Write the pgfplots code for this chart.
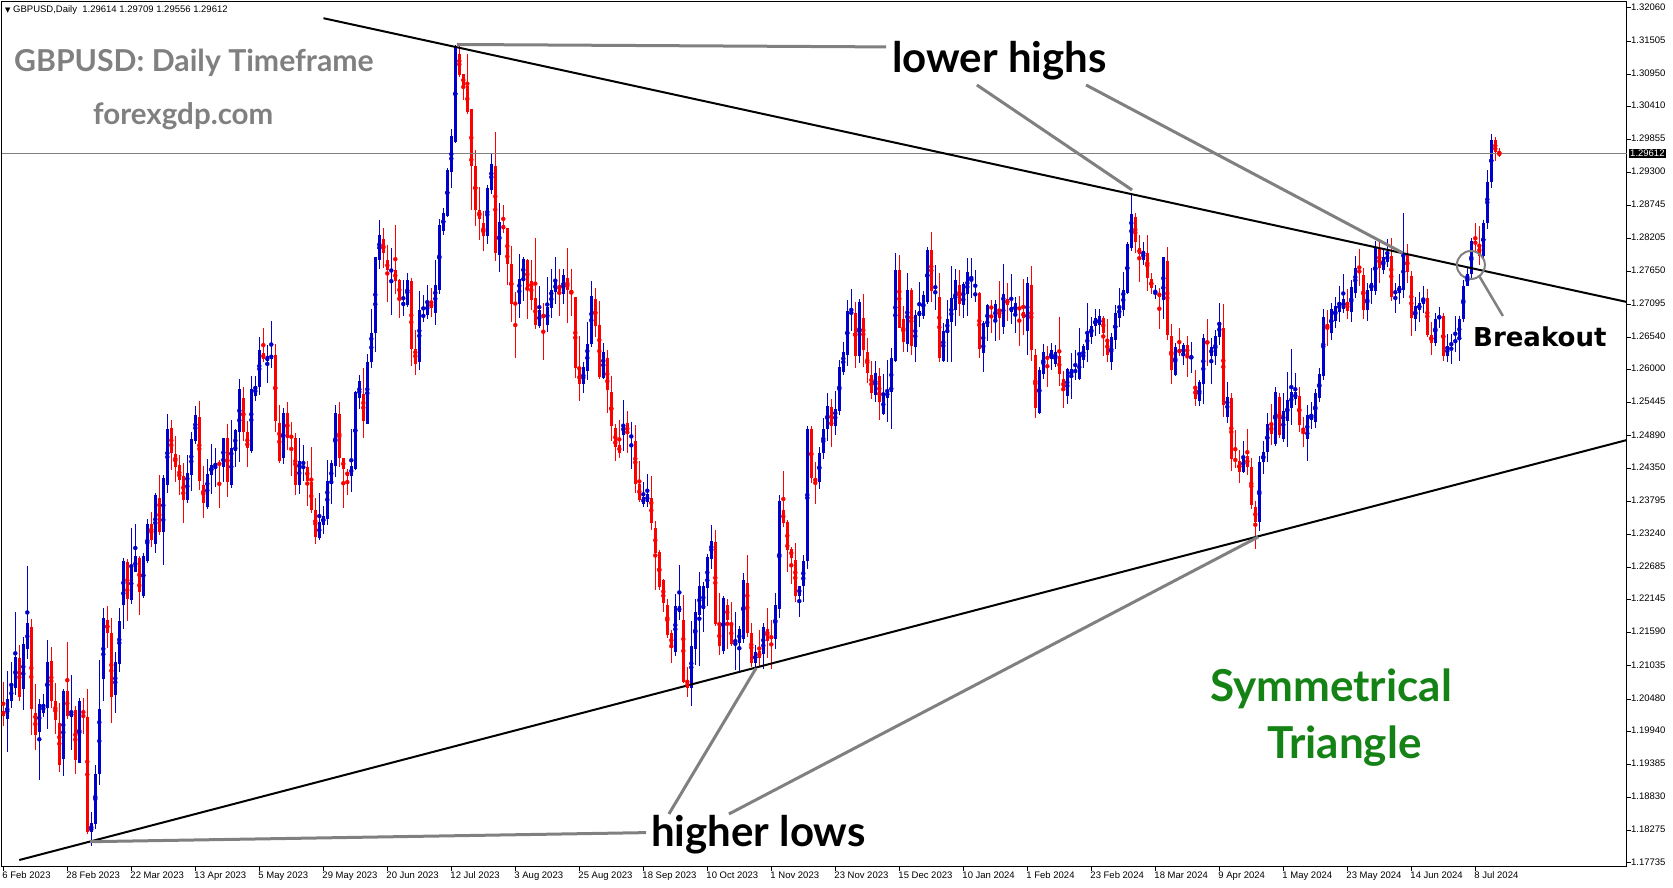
\documentclass[border=0pt]{standalone}
\usepackage{fontspec}
\setmainfont{Liberation Sans}
\newfontfamily\lato{Lato}
\newfontfamily\dejavu{DejaVu Sans}
\usepackage{pgfplots}
\usepackage{pgfplotstable}
\pgfplotsset{compat=1.18}

\definecolor{bull}{RGB}{0,0,205}
\definecolor{bear}{RGB}{255,0,0}
\definecolor{annot}{RGB}{128,128,128}
\definecolor{tri}{RGB}{20,130,20}

% GBPUSD daily candles, bar 0 = 6 Feb 2023 (weekdays only)
\pgfplotstableread{
o h l c
1.2028 1.2077 1.2003 1.2020
1.2014 1.2095 1.1960 1.2048
1.2044 1.2110 1.2033 1.2071
1.2067 1.2194 1.2055 1.2118
1.2117 1.2139 1.2045 1.2052
1.2064 1.2152 1.2029 1.2140
1.2131 1.2271 1.2115 1.2175
1.2168 1.2182 1.1988 1.2032
1.2025 1.2073 1.1963 1.1987
1.1992 1.2048 1.1913 1.2040
1.2024 1.2056 1.2017 1.2040
1.2033 1.2147 1.1997 1.2110
1.2112 1.2135 1.2033 1.2044
1.2044 1.2075 1.1990 1.2013
1.2008 1.2042 1.1926 1.1938
1.1948 1.2065 1.1919 1.2061
1.2061 1.2144 1.2015 1.2020
1.2018 1.2089 1.1963 1.2026
1.2030 1.2037 1.1923 1.1946
1.1940 1.2049 1.1940 1.2044
1.2028 1.2049 1.1990 1.2024
1.2018 1.2065 1.1821 1.1825
1.1825 1.1858 1.1801 1.1841
1.1838 1.1938 1.1830 1.1923
1.1923 1.2114 1.1904 1.2032
1.2081 1.2201 1.2045 1.2183
1.2181 1.2204 1.2134 1.2158
1.2158 1.2183 1.2008 1.2052
1.2055 1.2127 1.2025 1.2110
1.2106 1.2201 1.2094 1.2178
1.2206 1.2284 1.2166 1.2279
1.2278 1.2283 1.2178 1.2216
1.2214 1.2334 1.2207 1.2269
1.2261 1.2342 1.2260 1.2288
1.2284 1.2288 1.2189 1.2228
1.2221 1.2293 1.2218 1.2288
1.2279 1.2350 1.2276 1.2341
1.2341 1.2361 1.2302 1.2315
1.2308 1.2393 1.2293 1.2390
1.2385 1.2423 1.2323 1.2328
1.2327 1.2423 1.2273 1.2418
1.2407 1.2526 1.2394 1.2500
1.2502 1.2515 1.2432 1.2461
1.2459 1.2489 1.2412 1.2437
1.2440 1.2457 1.2389 1.2415
1.2422 1.2443 1.2343 1.2382
1.2382 1.2457 1.2377 1.2427
1.2424 1.2495 1.2397 1.2484
1.2480 1.2539 1.2476 1.2524
1.2520 1.2547 1.2399 1.2414
1.2407 1.2438 1.2352 1.2377
1.2370 1.2450 1.2367 1.2425
1.2424 1.2475 1.2391 1.2440
1.2437 1.2469 1.2404 1.2443
1.2443 1.2449 1.2368 1.2441
1.2436 1.2486 1.2411 1.2486
1.2485 1.2508 1.2386 1.2411
1.2406 1.2516 1.2402 1.2468
1.2464 1.2500 1.2436 1.2498
1.2495 1.2585 1.2445 1.2567
1.2553 1.2570 1.2481 1.2496
1.2495 1.2513 1.2436 1.2468
1.2464 1.2590 1.2460 1.2567
1.2555 1.2590 1.2548 1.2573
1.2570 1.2654 1.2558 1.2632
1.2627 1.2669 1.2613 1.2618
1.2614 1.2641 1.2578 1.2622
1.2618 1.2681 1.2603 1.2625
1.2625 1.2642 1.2496 1.2513
1.2511 1.2541 1.2444 1.2447
1.2452 1.2535 1.2442 1.2528
1.2528 1.2546 1.2465 1.2485
1.2490 1.2512 1.2422 1.2485
1.2486 1.2493 1.2390 1.2407
1.2407 1.2485 1.2392 1.2446
1.2436 1.2473 1.2414 1.2437
1.2437 1.2446 1.2372 1.2414
1.2412 1.2471 1.2360 1.2364
1.2364 1.2384 1.2308 1.2320
1.2318 1.2394 1.2315 1.2344
1.2340 1.2371 1.2325 1.2355
1.2350 1.2448 1.2340 1.2414
1.2409 1.2448 1.2375 1.2443
1.2439 1.2541 1.2420 1.2527
1.2526 1.2546 1.2437 1.2451
1.2451 1.2451 1.2368 1.2433
1.2429 1.2433 1.2390 1.2422
1.2422 1.2501 1.2395 1.2438
1.2434 1.2564 1.2431 1.2562
1.2553 1.2591 1.2534 1.2581
1.2559 1.2602 1.2486 1.2513
1.2509 1.2626 1.2508 1.2612
1.2612 1.2701 1.2602 1.2662
1.2662 1.2789 1.2630 1.2789
1.2783 1.2850 1.2769 1.2825
1.2818 1.2838 1.2771 1.2795
1.2783 1.2808 1.2714 1.2766
1.2764 1.2804 1.2692 1.2768
1.2766 1.2843 1.2727 1.2749
1.2750 1.2751 1.2686 1.2717
1.2707 1.2750 1.2689 1.2713
1.2709 1.2761 1.2704 1.2750
1.2748 1.2753 1.2606 1.2634
1.2635 1.2667 1.2591 1.2610
1.2613 1.2731 1.2599 1.2700
1.2689 1.2725 1.2680 1.2691
1.2691 1.2742 1.2684 1.2715
1.2712 1.2737 1.2688 1.2703
1.2695 1.2783 1.2674 1.2742
1.2733 1.2852 1.2727 1.2842
1.2832 1.2871 1.2825 1.2863
1.2857 1.2938 1.2855 1.2935
1.2931 1.3003 1.2904 1.2991
1.2982 1.3144 1.2980 1.3142
1.3129 1.3144 1.3090 1.3094
1.3095 1.3095 1.3052 1.3075
1.3075 1.3129 1.3029 1.3032
1.3036 1.3036 1.2867 1.2941
1.2941 1.2968 1.2841 1.2867
1.2867 1.2906 1.2817 1.2852
1.2846 1.2865 1.2799 1.2824
1.2824 1.2909 1.2810 1.2904
1.2901 1.2963 1.2894 1.2944
1.2941 1.2998 1.2782 1.2795
1.2792 1.2879 1.2764 1.2848
1.2842 1.2876 1.2829 1.2835
1.2837 1.2837 1.2742 1.2777
1.2777 1.2807 1.2680 1.2710
1.2712 1.2730 1.2619 1.2709
1.2710 1.2794 1.2687 1.2752
1.2749 1.2788 1.2715 1.2785
1.2784 1.2786 1.2685 1.2735
1.2749 1.2784 1.2699 1.2717
1.2720 1.2820 1.2668 1.2675
1.2673 1.2740 1.2669 1.2700
1.2693 1.2711 1.2616 1.2687
1.2675 1.2755 1.2663 1.2705
1.2703 1.2768 1.2687 1.2733
1.2730 1.2788 1.2710 1.2748
1.2742 1.2768 1.2689 1.2732
1.2727 1.2768 1.2710 1.2759
1.2754 1.2803 1.2678 1.2734
1.2734 1.2768 1.2690 1.2726
1.2721 1.2721 1.2586 1.2602
1.2599 1.2656 1.2548 1.2575
1.2575 1.2613 1.2560 1.2605
1.2597 1.2679 1.2583 1.2642
1.2642 1.2748 1.2638 1.2723
1.2718 1.2736 1.2654 1.2673
1.2675 1.2715 1.2584 1.2587
1.2586 1.2644 1.2585 1.2629
1.2619 1.2633 1.2528 1.2566
1.2562 1.2589 1.2481 1.2506
1.2502 1.2509 1.2446 1.2471
1.2474 1.2515 1.2451 1.2460
1.2491 1.2549 1.2463 1.2509
1.2510 1.2530 1.2460 1.2492
1.2486 1.2512 1.2434 1.2490
1.2480 1.2507 1.2394 1.2409
1.2409 1.2447 1.2378 1.2382
1.2375 1.2412 1.2370 1.2386
1.2378 1.2425 1.2369 1.2391
1.2385 1.2422 1.2331 1.2343
1.2335 1.2346 1.2231 1.2293
1.2295 1.2297 1.2231 1.2235
1.2247 1.2249 1.2193 1.2209
1.2206 1.2216 1.2151 1.2155
1.2159 1.2164 1.2109 1.2134
1.2126 1.2224 1.2120 1.2204
1.2194 1.2273 1.2180 1.2203
1.2180 1.2222 1.2075 1.2077
1.2077 1.2102 1.2052 1.2066
1.2066 1.2178 1.2037 1.2136
1.2132 1.2216 1.2105 1.2193
1.2189 1.2261 1.2104 1.2238
1.2198 1.2244 1.2161 1.2238
1.2234 1.2291 1.2203 1.2286
1.2283 1.2339 1.2266 1.2313
1.2311 1.2332 1.2170 1.2174
1.2170 1.2226 1.2121 1.2137
1.2129 1.2220 1.2124 1.2218
1.2206 1.2216 1.2132 1.2181
1.2176 1.2211 1.2136 1.2140
1.2138 1.2193 1.2097 1.2143
1.2141 1.2171 1.2095 1.2165
1.2149 1.2259 1.2141 1.2248
1.2243 1.2290 1.2152 1.2159
1.2159 1.2176 1.2102 1.2109
1.2109 1.2139 1.2097 1.2127
1.2129 1.2163 1.2102 1.2116
1.2124 1.2176 1.2099 1.2169
1.2166 1.2201 1.2117 1.2146
1.2154 1.2180 1.2099 1.2149
1.2149 1.2226 1.2132 1.2205
1.2199 1.2390 1.2184 1.2380
1.2365 1.2430 1.2336 1.2343
1.2345 1.2348 1.2261 1.2298
1.2300 1.2303 1.2241 1.2285
1.2281 1.2309 1.2211 1.2221
1.2221 1.2238 1.2186 1.2237
1.2237 1.2290 1.2210 1.2280
1.2280 1.2505 1.2265 1.2500
1.2500 1.2506 1.2410 1.2418
1.2418 1.2445 1.2375 1.2412
1.2412 1.2470 1.2400 1.2460
1.2460 1.2518 1.2450 1.2500
1.2500 1.2561 1.2480 1.2539
1.2537 1.2550 1.2470 1.2505
1.2505 1.2564 1.2490 1.2534
1.2531 1.2616 1.2524 1.2604
1.2596 1.2646 1.2591 1.2629
1.2624 1.2717 1.2606 1.2698
1.2693 1.2735 1.2665 1.2697
1.2695 1.2713 1.2603 1.2623
1.2622 1.2718 1.2611 1.2713
1.2686 1.2727 1.2605 1.2632
1.2629 1.2653 1.2578 1.2595
1.2591 1.2614 1.2551 1.2560
1.2558 1.2614 1.2545 1.2594
1.2590 1.2603 1.2516 1.2546
1.2526 1.2593 1.2524 1.2557
1.2553 1.2616 1.2512 1.2564
1.2563 1.2636 1.2500 1.2619
1.2615 1.2796 1.2612 1.2767
1.2767 1.2792 1.2669 1.2670
1.2684 1.2707 1.2630 1.2647
1.2643 1.2761 1.2630 1.2734
1.2734 1.2737 1.2625 1.2640
1.2637 1.2699 1.2613 1.2692
1.2689 1.2747 1.2672 1.2698
1.2689 1.2732 1.2685 1.2725
1.2714 1.2806 1.2710 1.2801
1.2801 1.2831 1.2714 1.2731
1.2727 1.2776 1.2700 1.2732
1.2722 1.2762 1.2612 1.2620
1.2615 1.2678 1.2613 1.2665
1.2662 1.2717 1.2612 1.2685
1.2680 1.2774 1.2612 1.2720
1.2699 1.2769 1.2673 1.2750
1.2742 1.2767 1.2690 1.2710
1.2709 1.2747 1.2687 1.2743
1.2727 1.2787 1.2690 1.2763
1.2749 1.2787 1.2720 1.2752
1.2725 1.2767 1.2714 1.2727
1.2728 1.2730 1.2620 1.2635
1.2628 1.2682 1.2596 1.2678
1.2672 1.2710 1.2648 1.2708
1.2706 1.2716 1.2662 1.2702
1.2679 1.2716 1.2648 1.2710
1.2702 1.2748 1.2650 1.2687
1.2671 1.2777 1.2660 1.2727
1.2718 1.2745 1.2682 1.2709
1.2697 1.2760 1.2677 1.2705
1.2695 1.2722 1.2662 1.2712
1.2705 1.2724 1.2640 1.2700
1.2697 1.2752 1.2658 1.2687
1.2664 1.2755 1.2625 1.2745
1.2742 1.2774 1.2615 1.2633
1.2625 1.2635 1.2518 1.2535
1.2528 1.2605 1.2526 1.2600
1.2593 1.2643 1.2585 1.2629
1.2622 1.2640 1.2571 1.2617
1.2617 1.2644 1.2600 1.2633
1.2609 1.2641 1.2604 1.2630
1.2623 1.2688 1.2573 1.2593
1.2585 1.2598 1.2536 1.2566
1.2556 1.2603 1.2542 1.2601
1.2588 1.2627 1.2551 1.2601
1.2597 1.2632 1.2583 1.2598
1.2585 1.2670 1.2582 1.2623
1.2616 1.2643 1.2603 1.2640
1.2633 1.2711 1.2612 1.2663
1.2655 1.2688 1.2643 1.2673
1.2673 1.2701 1.2657 1.2686
1.2675 1.2701 1.2660 1.2689
1.2686 1.2689 1.2622 1.2662
1.2652 1.2684 1.2613 1.2625
1.2613 1.2662 1.2600 1.2655
1.2649 1.2709 1.2635 1.2694
1.2687 1.2737 1.2672 1.2707
1.2699 1.2763 1.2690 1.2734
1.2729 1.2814 1.2726 1.2811
1.2803 1.2893 1.2798 1.2861
1.2855 1.2863 1.2796 1.2814
1.2803 1.2826 1.2747 1.2794
1.2783 1.2814 1.2776 1.2799
1.2795 1.2825 1.2731 1.2754
1.2752 1.2761 1.2727 1.2736
1.2726 1.2742 1.2719 1.2731
1.2729 1.2736 1.2668 1.2722
1.2717 1.2789 1.2685 1.2789
1.2782 1.2805 1.2650 1.2658
1.2657 1.2677 1.2575 1.2600
1.2591 1.2645 1.2590 1.2638
1.2634 1.2670 1.2622 1.2628
1.2623 1.2644 1.2607 1.2641
1.2641 1.2657 1.2587 1.2623
1.2618 1.2646 1.2595 1.2623
1.2572 1.2600 1.2539 1.2551
1.2548 1.2582 1.2539 1.2579
1.2575 1.2660 1.2542 1.2653
1.2647 1.2685 1.2606 1.2644
1.2623 1.2653 1.2575 1.2638
1.2623 1.2666 1.2608 1.2656
1.2655 1.2712 1.2641 1.2679
1.2669 1.2710 1.2520 1.2540
1.2521 1.2579 1.2511 1.2554
1.2553 1.2561 1.2430 1.2450
1.2450 1.2498 1.2435 1.2447
1.2447 1.2465 1.2410 1.2429
1.2429 1.2480 1.2426 1.2456
1.2456 1.2500 1.2423 1.2436
1.2436 1.2452 1.2366 1.2373
1.2370 1.2380 1.2300 1.2345
1.2345 1.2455 1.2330 1.2445
1.2445 1.2480 1.2425 1.2462
1.2462 1.2527 1.2445 1.2509
1.2509 1.2543 1.2474 1.2492
1.2475 1.2571 1.2472 1.2563
1.2554 1.2561 1.2486 1.2490
1.2484 1.2560 1.2479 1.2531
1.2514 1.2596 1.2470 1.2549
1.2536 1.2634 1.2507 1.2563
1.2550 1.2594 1.2540 1.2562
1.2556 1.2570 1.2495 1.2507
1.2502 1.2520 1.2470 1.2497
1.2484 1.2540 1.2446 1.2524
1.2515 1.2545 1.2500 1.2524
1.2512 1.2567 1.2502 1.2561
1.2552 1.2603 1.2545 1.2593
1.2589 1.2702 1.2582 1.2688
1.2676 1.2700 1.2640 1.2670
1.2662 1.2712 1.2650 1.2701
1.2681 1.2722 1.2670 1.2707
1.2697 1.2740 1.2680 1.2713
1.2701 1.2760 1.2695 1.2718
1.2713 1.2735 1.2685 1.2698
1.2697 1.2750 1.2680 1.2738
1.2729 1.2790 1.2720 1.2770
1.2767 1.2802 1.2740 1.2762
1.2758 1.2770 1.2685 1.2700
1.2699 1.2745 1.2682 1.2733
1.2732 1.2770 1.2710 1.2745
1.2732 1.2815 1.2725 1.2805
1.2804 1.2818 1.2745 1.2771
1.2766 1.2800 1.2760 1.2789
1.2780 1.2818 1.2772 1.2794
1.2790 1.2820 1.2715 1.2722
1.2727 1.2745 1.2695 1.2732
1.2728 1.2760 1.2710 1.2740
1.2733 1.2862 1.2720 1.2795
1.2794 1.2810 1.2745 1.2763
1.2757 1.2765 1.2657 1.2687
1.2684 1.2722 1.2665 1.2707
1.2700 1.2730 1.2680 1.2711
1.2710 1.2740 1.2695 1.2720
1.2720 1.2735 1.2655 1.2658
1.2658 1.2680 1.2625 1.2645
1.2645 1.2695 1.2640 1.2685
1.2685 1.2705 1.2670 1.2690
1.2690 1.2695 1.2615 1.2622
1.2622 1.2660 1.2612 1.2640
1.2640 1.2660 1.2610 1.2645
1.2645 1.2690 1.2630 1.2650
1.2650 1.2690 1.2615 1.2685
1.2685 1.2750 1.2680 1.2740
1.2740 1.2770 1.2740 1.2760
1.2760 1.2820 1.2750 1.2815
1.2815 1.2845 1.2795 1.2810
1.2810 1.2840 1.2775 1.2790
1.2790 1.2850 1.2785 1.2845
1.2845 1.2935 1.2835 1.2915
1.2915 1.2995 1.2905 1.2985
1.2985 1.2990 1.2950 1.2965
1.29614 1.29709 1.29556 1.29612
}\ohlc

\begin{document}
\begin{tikzpicture}
\useasboundingbox (0pt,0pt) rectangle (1673pt,888pt);
\begin{axis}[
  at={(2pt,21pt)}, anchor=south west,
  scale only axis, width=1625pt, height=865pt,
  xmin=-0.325, xmax=405.925,
  ymin=1.17665, ymax=1.32159,
  axis line style={line width=1pt, black},
  tick align=outside, major tick length=4pt,
  tick style={black, line width=0.8pt},
  xtick pos=bottom, ytick pos=right, yticklabel pos=right,
  xtick={0,16,...,368},
  xticklabels={6 Feb 2023,28 Feb 2023,22 Mar 2023,13 Apr 2023,5 May 2023,29 May 2023,20 Jun 2023,12 Jul 2023,3 Aug 2023,25 Aug 2023,18 Sep 2023,10 Oct 2023,1 Nov 2023,23 Nov 2023,15 Dec 2023,10 Jan 2024,1 Feb 2024,23 Feb 2024,18 Mar 2024,9 Apr 2024,1 May 2024,23 May 2024,14 Jun 2024,8 Jul 2024},
  ytick={1.32060,1.31505,1.30950,1.30410,1.29855,1.29300,1.28745,1.28205,1.27650,1.27095,1.26540,1.26000,1.25445,1.24890,1.24350,1.23795,1.23240,1.22685,1.22145,1.21590,1.21035,1.20480,1.19940,1.19385,1.18830,1.18275,1.17735},
  yticklabels={1.32060,1.31505,1.30950,1.30410,1.29855,1.29300,1.28745,1.28205,1.27650,1.27095,1.26540,1.26000,1.25445,1.24890,1.24350,1.23795,1.23240,1.22685,1.22145,1.21590,1.21035,1.20480,1.19940,1.19385,1.18830,1.18275,1.17735},
  xticklabel style={anchor=north west, inner sep=0pt, xshift=-1pt, font=\fontsize{9.5}{11}\selectfont},
  yticklabel style={anchor=west, inner sep=0pt, font=\fontsize{9.5}{11}\selectfont},
  typeset ticklabels with strut=false,
]
% wicks
\addplot[bull, only marks, mark=none, error bars/.cd, y dir=both, y explicit, error mark=none,
  error bar style={line width=1.1pt, bull}]
  table[x expr=\coordindex, y expr={\thisrow{c} < \thisrow{o} ? nan : 0.5*(\thisrow{h}+\thisrow{l})},
        y error expr={0.5*(\thisrow{h}-\thisrow{l})}] {\ohlc};
\addplot[bear, only marks, mark=none, error bars/.cd, y dir=both, y explicit, error mark=none,
  error bar style={line width=1.1pt, bear}]
  table[x expr=\coordindex, y expr={\thisrow{c} < \thisrow{o} ? 0.5*(\thisrow{h}+\thisrow{l}) : nan},
        y error expr={0.5*(\thisrow{h}-\thisrow{l})}] {\ohlc};
% bodies
\addplot[bull, only marks, mark=none, error bars/.cd, y dir=both, y explicit, error mark=none,
  error bar style={line width=3.2pt, bull}]
  table[x expr=\coordindex, y expr={\thisrow{c} < \thisrow{o} ? nan : 0.5*(\thisrow{o}+\thisrow{c})},
        y error expr={max(0.5*abs(\thisrow{c}-\thisrow{o}),0.00009)}] {\ohlc};
\addplot[bear, only marks, mark=none, error bars/.cd, y dir=both, y explicit, error mark=none,
  error bar style={line width=3.2pt, bear}]
  table[x expr=\coordindex, y expr={\thisrow{c} < \thisrow{o} ? 0.5*(\thisrow{o}+\thisrow{c}) : nan},
        y error expr={max(0.5*abs(\thisrow{c}-\thisrow{o}),0.00009)}] {\ohlc};

% bid line
\addplot[annot, line width=1pt] coordinates {(-0.325,1.29612) (405.925,1.29612)};
% triangle borders
\addplot[black, line width=2pt] coordinates {(80.05,1.31887) (405.925,1.27132)};
\addplot[black, line width=2pt] coordinates {(4.0,1.17782) (405.925,1.24820)};
% pointer lines
\addplot[annot, line width=3pt] coordinates {(113.4,1.31447) (220.7,1.31406)};
\addplot[annot, line width=3pt] coordinates {(243.4,1.30768) (282.2,1.29009)};
\addplot[annot, line width=3pt] coordinates {(270.7,1.30768) (349.9,1.27953)};
\addplot[annot, line width=3pt] coordinates {(21.7,1.18089) (160.7,1.18241)};
\addplot[annot, line width=3pt] coordinates {(166.4,1.18553) (188.2,1.20996)};
\addplot[annot, line width=3pt] coordinates {(181.4,1.18553) (313.7,1.23194)};
\addplot[annot, line width=2.5pt] coordinates {(374.9,1.26898) (368.9,1.27576)};
\draw[annot, line width=2pt] (axis cs:366.9,1.27752) circle[radius=14pt];
\end{axis}

% current price box
\node[fill=black, text=white, anchor=west, inner sep=1pt, font=\fontsize{9.5}{11}\selectfont] at (1629pt,734.5pt) {1.29612};

% header
\node[anchor=west, inner sep=0pt, font=\fontsize{9.5}{11}\selectfont] at (5pt,878pt)
  {{\dejavu\fontsize{7}{8}\selectfont ▼}\ GBPUSD,Daily\ \ 1.29614 1.29709 1.29556 1.29612};

% annotations
\node[anchor=base west, inner sep=0pt, text=annot, font=\lato\bfseries\fontsize{30.2}{34}\selectfont] at (14pt,816pt) {GBPUSD: Daily Timeframe};
\node[anchor=base west, inner sep=0pt, text=annot, font=\lato\bfseries\fontsize{29.5}{33}\selectfont] at (93pt,763pt) {forexgdp.com};
\node[anchor=base west, inner sep=0pt, font=\lato\bfseries\fontsize{42}{46}\selectfont] at (892pt,815pt) {lower highs};
\node[anchor=base west, inner sep=0pt, font=\lato\bfseries\fontsize{42}{46}\selectfont] at (651pt,41pt) {higher lows};
\node[anchor=base west, inner sep=0pt, font=\dejavu\bfseries\fontsize{26}{30}\selectfont] at (1473pt,541pt) {Breakout};
\node[anchor=base west, inner sep=0pt, text=tri, font=\lato\bfseries\fontsize{44}{48}\selectfont] at (1210pt,186.5pt) {Symmetrical};
\node[anchor=base west, inner sep=0pt, text=tri, font=\lato\bfseries\fontsize{44}{48}\selectfont] at (1267pt,129pt) {Triangle};
\end{tikzpicture}
\end{document}
